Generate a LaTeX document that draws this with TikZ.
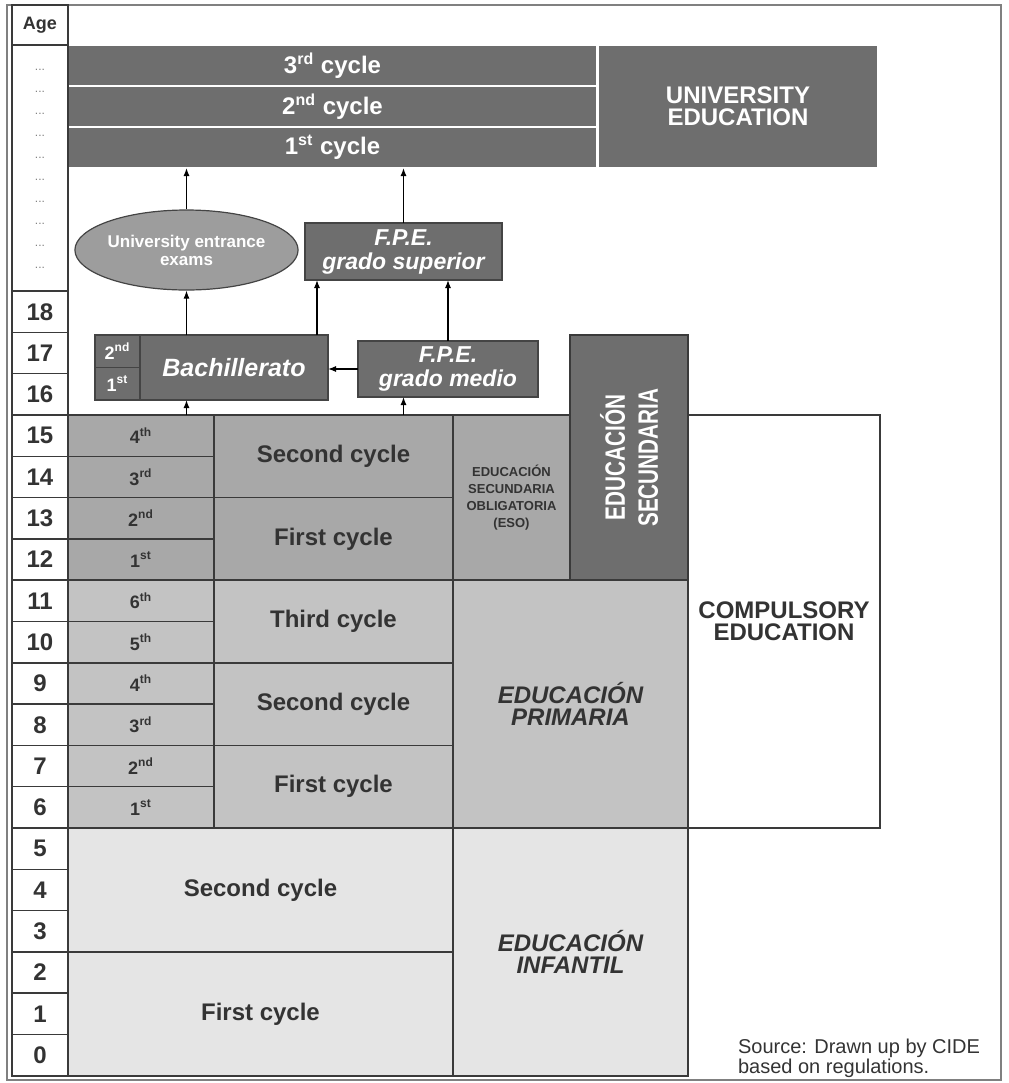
\documentclass[tikz,border=0pt]{standalone}
\usepackage{fontspec}
\setmainfont{Liberation Sans}
\usepackage{graphicx}
\usetikzlibrary{shapes.geometric, arrows.meta}

\definecolor{darkfill}{HTML}{6E6E6E}
\definecolor{esofill}{HTML}{A8A8A8}
\definecolor{primfill}{HTML}{C3C3C3}
\definecolor{inffill}{HTML}{E5E5E5}
\definecolor{ellfill}{HTML}{9D9D9D}
\definecolor{gridline}{HTML}{3A3A3A}
\definecolor{boxline}{HTML}{444444}
\definecolor{framegray}{HTML}{808080}
\definecolor{labeltext}{HTML}{333333}

\tikzset{
  cell/.style={draw=gridline, line width=0.75pt, inner sep=0pt, outer sep=0pt, align=center,
    text=labeltext, font=\bfseries\fontsize{12}{11}\selectfont},
  boxsize/.style 2 args={minimum width=#1*0.5pt, minimum height=#2*0.5pt},
  agecell/.style={cell, fill=white, boxsize={56}{41.3}},
  gradecell/.style={cell, boxsize={146}{41.3}, font=\bfseries\fontsize{9}{9}\selectfont},
  cyclecell/.style={cell, boxsize={239}{82.6}},
  darkbox/.style={cell, fill=darkfill, draw=boxline, text=white,
    font=\bfseries\itshape\fontsize{11.5}{12}\selectfont},
  unicell/.style={cell, fill=darkfill, draw=white, line width=1pt, text=white},
  arr/.style={-{Latex[length=4pt,width=3pt]}, line width=0.6pt, black},
}

\begin{document}
\begin{tikzpicture}[x=0.5pt, y=-0.5pt]
    \useasboundingbox (0,0) rectangle (1008,1083);
    \draw[framegray, line width=0.8pt] (7,5) rectangle (1001,1080);

    % compulsory frame
    \node[cell, fill=white, boxsize={812}{413}] (comp) at (474,621.5) {};
    \node[cell, draw=none] (complabel) at (784,621) {COMPULSORY\\EDUCATION};

    % university
    \node[unicell, boxsize={529}{41}] (cyc3) at (332.5,65.5)  {3\textsuperscript{rd} cycle};
    \node[unicell, boxsize={529}{41}] (cyc2) at (332.5,106.5) {2\textsuperscript{nd} cycle};
    \node[unicell, boxsize={529}{41}] (cyc1) at (332.5,147.5) {1\textsuperscript{st} cycle};
    \node[unicell, boxsize={280}{123}] (uni) at (738,106.5) {UNIVERSITY\\EDUCATION};

    % age column
    \node[agecell, boxsize={56}{40}, font=\bfseries\fontsize{9}{9}\selectfont] (agehead) at (40,25) {Age};
    \node[agecell, boxsize={56}{246}] (agedots) at (40,168) {};
    \foreach \k in {0,...,9}
        \node[text=gray, font=\fontsize{6}{6}\selectfont] (dots\k) at (40,{70+22*\k}) {...};
    \foreach \a in {0,...,18}
        \node[agecell] (age\a) at (40,{435.65+(15-\a)*41.3}) {\a};

    % post-compulsory
    \node[ellipse, draw=boxline, fill=ellfill, line width=0.6pt, inner sep=0pt,
          minimum width=111.5pt, minimum height=40pt, text=white, align=center,
          font=\bfseries\fontsize{8.5}{9}\selectfont] (exams) at (186.5,250) {University entrance\\exams};
    \node[darkbox, boxsize={197}{57}] (fpes) at (403.5,251.5) {F.P.E.\\grado superior};
    \node[darkbox, boxsize={188}{65}, font=\bfseries\itshape\fontsize{12.5}{12}\selectfont] (bach) at (234,367.5) {Bachillerato};
    \node[darkbox, boxsize={45}{32.5}, font=\bfseries\fontsize{9}{9}\selectfont] (bach2) at (117.5,351.25) {2\textsuperscript{nd}};
    \node[darkbox, boxsize={45}{32.5}, font=\bfseries\fontsize{9}{9}\selectfont] (bach1) at (117.5,383.75) {1\textsuperscript{st}};
    \node[darkbox, boxsize={180}{56}] (fpem) at (448,369) {F.P.E.\\grado medio};

    % compulsory stages
    \foreach \a/\g in {15/4\textsuperscript{th}, 14/3\textsuperscript{rd}, 13/2\textsuperscript{nd}, 12/1\textsuperscript{st}}
        \node[gradecell, fill=esofill] (grade\a) at (141,{435.65+(15-\a)*41.3}) {\g};
    \foreach \a/\g in {11/6\textsuperscript{th}, 10/5\textsuperscript{th}, 9/4\textsuperscript{th}, 8/3\textsuperscript{rd}, 7/2\textsuperscript{nd}, 6/1\textsuperscript{st}}
        \node[gradecell, fill=primfill] (grade\a) at (141,{435.65+(15-\a)*41.3}) {\g};

    \node[cyclecell, fill=esofill]  (esoB)  at (333.5,456.3) {Second cycle};
    \node[cyclecell, fill=esofill]  (esoA)  at (333.5,538.9) {First cycle};
    \node[cyclecell, fill=primfill] (primC) at (333.5,621.5) {Third cycle};
    \node[cyclecell, fill=primfill] (primB) at (333.5,704.1) {Second cycle};
    \node[cyclecell, fill=primfill] (primA) at (333.5,786.7) {First cycle};
    \node[cell, fill=inffill, boxsize={385}{123.9}] (infB) at (260.5,889.95)  {Second cycle};
    \node[cell, fill=inffill, boxsize={385}{123.9}] (infA) at (260.5,1013.85) {First cycle};

    \node[cell, fill=esofill, boxsize={117}{165.2}, font=\bfseries\fontsize{6.5}{8.5}\selectfont] (esolabel)
        at (511.5,497.6) {EDUCACIÓN\\SECUNDARIA\\OBLIGATORIA\\(ESO)};
    \node[cell, fill=darkfill, boxsize={118}{245.2}] (secund) at (629,457.6) {};
    \node[rotate=90, text=white, align=center, font=\bfseries\fontsize{14}{16.5}\selectfont] (secundlabel)
        at (secund.center) {\scalebox{0.74}[1]{EDUCACIÓN}\\\scalebox{0.74}[1]{SECUNDARIA}};
    \node[cell, fill=primfill, boxsize={235}{247.8}, font=\bfseries\itshape\fontsize{12}{11}\selectfont] (prim)
        at (570.5,704.1) {EDUCACIÓN\\PRIMARIA};
    \node[cell, fill=inffill, boxsize={235}{247.8}, font=\bfseries\itshape\fontsize{12}{11}\selectfont] (inf)
        at (570.5,951.9) {EDUCACIÓN\\INFANTIL};

    % routes
    \coordinate (bachout) at ([xshift=-5.5pt]bach.north east);
    \draw[arr] (exams.north) -- (exams.north |- cyc1.south);
    \draw[arr] (fpes.north) -- (fpes.north |- cyc1.south);
    \draw[arr] (exams.south |- bach.north) -- (exams.south);
    \draw[arr] (bachout) -- (bachout |- fpes.south);
    \draw[arr] (fpem.north) -- (fpem.north |- fpes.south);
    \draw[arr] (fpem.west) -- (fpem.west -| bach.east);
    \draw[arr] (exams.south |- grade15.north) -- (exams.south |- bach.south);
    \draw[arr] (fpes.north |- esoB.north) -- (fpes.north |- fpem.south);

    \node[anchor=west, align=left, text=labeltext, font=\fontsize{10}{10}\selectfont] (source)
        at (731,1058) {Source: Drawn up by CIDE\\based on regulations.};
\end{tikzpicture}
\end{document}
